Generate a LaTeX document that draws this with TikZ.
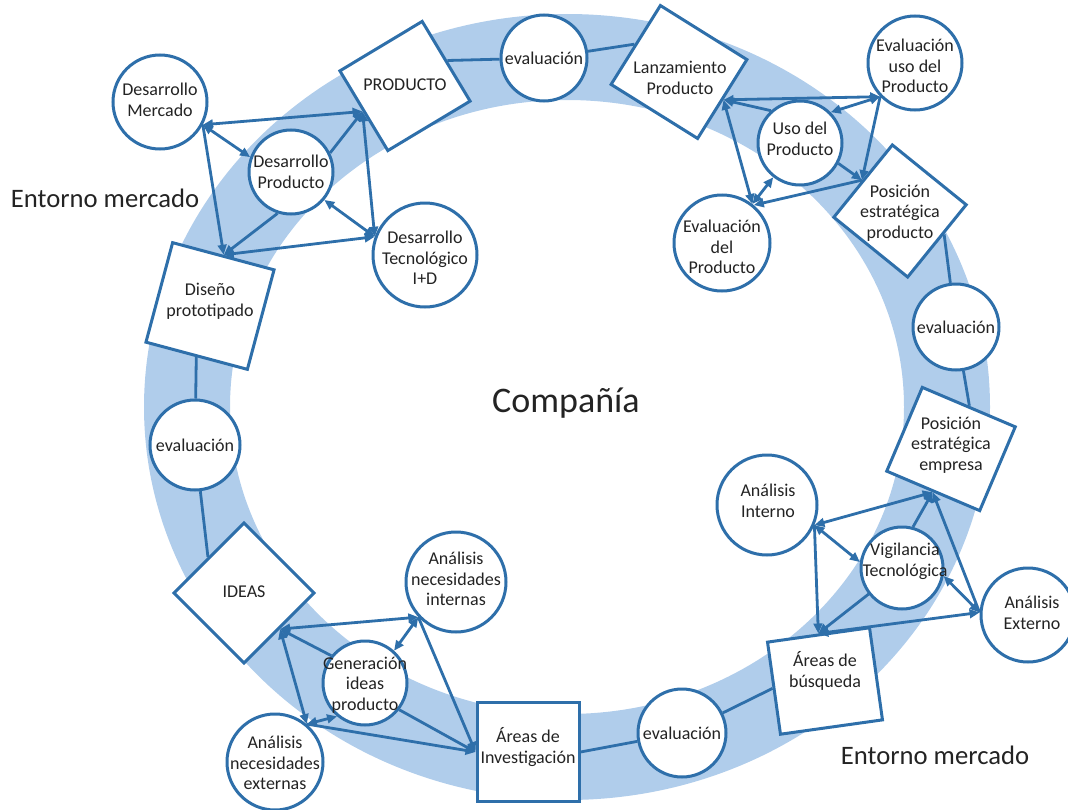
\documentclass[tikz,border=0pt]{standalone}
\usepackage{fontspec}
\setmainfont{Carlito}
\usetikzlibrary{arrows.meta,calc}
\definecolor{edge}{RGB}{46,111,170}
\definecolor{band}{RGB}{176,205,235}
\definecolor{ink}{RGB}{35,35,35}
\tikzset{
  >={Triangle[length=7.5pt,width=6.5pt]},
  circ/.style={circle, draw=edge, line width=2.25pt, fill=white, inner sep=0pt, minimum size=#1},
  box/.style 2 args={rectangle, draw=edge, line width=2.25pt, fill=white, inner sep=0pt,
                     minimum width=#1, minimum height=#2},
  txt/.style={align=center, text=ink, inner sep=0pt, font=\fontsize{13.5}{15.5}\selectfont},
  big/.style={text=ink, inner sep=0pt, font=\fontsize{20}{24}\selectfont},
  link/.style={draw=edge, line width=2.1pt}
}
\begin{document}
\begin{tikzpicture}[x=0.75pt, y=-0.75pt]
\useasboundingbox (0,0) rectangle (1068,810);

% the company ring
\draw[band, line width=64.5pt] (567,407) ellipse [x radius=380, y radius=350];

% boxes
\node[box={72pt}{69.75pt}, rotate=31]   (prod)  at (405,86)  {};
\node[box={76.5pt}{69.75pt}, rotate=-32] (lanz) at (679,72)  {};
\node[box={71.25pt}{69.75pt}, rotate=-39] (pep) at (900,211) {};
\node[box={75.75pt}{68.25pt}, rotate=-23] (pee) at (951,449) {};
\node[box={77.25pt}{69.75pt}, rotate=8]  (ab)   at (825,681) {};
\node[box={76.5pt}{74.25pt}]             (ai)   at (528,752) {};
\node[box={74.25pt}{74.25pt}, rotate=45] (ideas) at (244,593) {};
\node[box={78.75pt}{77.25pt}, rotate=-15] (dis) at (210,306) {};

% circles
\node[circ=70.5pt] (dm)     at (160,102) {};
\node[circ=63pt]   (dp)     at (291,172) {};
\node[circ=78pt]   (dt)     at (425,255) {};
\node[circ=64.5pt] (evtop)  at (544,58)  {};
\node[circ=70.5pt] (eup)    at (915,63)  {};
\node[circ=63pt]   (up)     at (800,143) {};
\node[circ=72pt]   (edp)    at (722,243) {};
\node[circ=64.5pt] (evright) at (956,327) {};
\node[circ=67.5pt] (evleft) at (195,445) {};
\node[circ=66pt]   (evbot)  at (682,733) {};
\node[circ=75pt]   (aint)   at (767,505) {};
\node[circ=61.5pt] (vt)     at (902,568) {};
\node[circ=70.5pt] (ae)     at (1028,615) {};
\node[circ=75pt]   (ani)    at (456,582) {};
\node[circ=63pt]   (gen)    at (365,683) {};
\node[circ=72pt]   (ane)    at (275,762) {};

% texts
\node[txt] at (405,85)  {PRODUCTO};
\node[txt] at (680,78)  {Lanzamiento\\Producto};
\node[txt] at (900,213) {Posición\\estratégica\\producto};
\node[txt] at (951,445) {Posición\\estratégica\\empresa};
\node[txt] at (825,671) {Áreas de\\búsqueda};
\node[txt] at (528,747) {Áreas de\\Investigación};
\node[txt] at (244,592) {IDEAS};
\node[txt] at (210,301) {Diseño\\prototipado};
\node[txt] at (160,100) {Desarrollo\\Mercado};
\node[txt] at (291,172) {Desarrollo\\Producto};
\node[txt] at (425,258) {Desarrollo\\Tecnológico\\I+D};
\node[txt] at (544,58)  {evaluación};
\node[txt] at (915,66)  {Evaluación\\uso del\\Producto};
\node[txt] at (800,139) {Uso del\\Producto};
\node[txt] at (722,247) {Evaluación\\del\\Producto};
\node[txt] at (956,327) {evaluación};
\node[txt] at (195,445) {evaluación};
\node[txt] at (682,733) {evaluación};
\node[txt] at (768,501) {Análisis\\Interno};
\node[txt] at (905,561) {Vigilancia\\Tecnológica};
\node[txt] at (1032,613) {Análisis\\Externo};
\node[txt] at (456,579) {Análisis\\necesidades\\internas};
\node[txt] at (365,685) {Generación\\ideas\\producto};
\node[txt] at (275,763) {Análisis\\necesidades\\externas};

\node[big] (envl) at (105,198) {Entorno mercado};
\node[big] (envr) at (935,755) {Entorno mercado};
\node[text=ink, inner sep=0pt, font=\fontsize{27}{32}\selectfont] (comp) at (566,403) {Compañía};

% links along the ring
\draw[link] (dis.south) -- (evleft);
\draw[link] (evleft) -- (ideas.north);
\draw[link] (prod.east) -- (evtop);
\draw[link] (evtop) -- (lanz.west);
\draw[link] ($(pep.north east)!0.4!(pep.south east)$) -- (evright);
\draw[link] (evright) -- (pee.north);
\draw[link] (ab.west) -- (evbot);
\draw[link] (evbot) -- (ai.east);

% product development
\draw[link,<->] (dm.-28) -- (prod.west);
\draw[link,<->] (dm.-28) -- (dp.160);
\draw[link,->] (dp.26) -- (prod.west);
\draw[link,->] (dm.-28) -- (dis.north);
\draw[link,->] (dp.252) -- (dis.north);
\draw[link,<->] (dp.-40) -- (dt.160);
\draw[link,<->] (dis.north) -- (dt.160);
\draw[link,<->] (prod.west) -- (dt.160);

% product launch
\draw[link,<->] (lanz.east) -- (eup.224);
\draw[link,->] (up.132) -- (lanz.east);
\draw[link,<->] (up.45) -- (eup.224);
\draw[link,->] (eup.224) -- (pep.west);
\draw[link,->] (up.-28) -- (pep.west);
\draw[link,<->] (lanz.east) -- (edp.52);
\draw[link,<->] (up.232) -- (edp.52);
\draw[link,->] (pep.west) -- (edp.50);

% idea generation
\draw[link,<->] (ideas.south) -- (ani.223);
\draw[link,->] (gen.141) -- (ideas.south);
\draw[link,<->] (gen.48) -- (ani.223);
\draw[link,<->] (ane.50) -- (ideas.south);
\draw[link,<->] (ane.50) -- (gen.230);
\draw[link,->] (ani.223) -- (ai.west);
\draw[link,->] (gen.-38) -- (ai.west);
\draw[link,->] (ane.50) -- (ai.west);

% search areas
\draw[link,<->] (aint.-23) -- (pee.south);
\draw[link,<->] (aint.-23) -- (vt.172);
\draw[link,->] (vt.75) -- (pee.south);
\draw[link,->] (aint.-23) -- (ab.north);
\draw[link,->] (vt.218) -- (ab.north);
\draw[link,<->] (ab.north) -- (ae.177);
\draw[link,<->] (ae.177) -- (vt.-11);
\draw[link,->] (ae.177) -- (pee.south);
\end{tikzpicture}
\end{document}
